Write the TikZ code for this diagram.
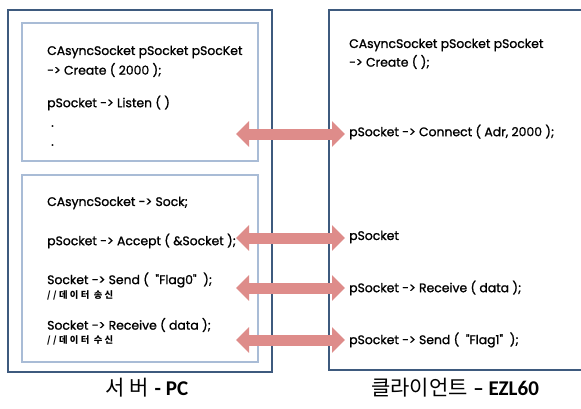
\documentclass[tikz,border=0pt]{standalone}
\usepackage{fontspec}
\setmainfont{Poppins}
\newfontfamily\codefont[FakeBold=1.2]{Poppins}
\newfontfamily\krfont{Noto Sans CJK KR}
\newfontfamily\krcmt[LetterSpace=25]{Noto Sans CJK KR}
\newfontfamily\lblfont{Carlito}
\usetikzlibrary{arrows.meta}
\definecolor{outerc}{HTML}{3E5A7E}
\definecolor{innerc}{HTML}{A9BCD6}
\definecolor{arrowc}{HTML}{DE8C8A}
\tikzset{
  outerbox/.style={draw=outerc,line width=1.6pt},
  innerbox/.style={draw=innerc,line width=1.4pt},
  code/.style={anchor=west,inner sep=0pt,font=\codefont\fontsize{12.4}{14}\selectfont},
  cmt/.style={anchor=west,inner sep=0pt,font=\krcmt\bfseries\fontsize{9.3}{10}\selectfont},
  lbl/.style={anchor=center,inner sep=0pt,font=\fontsize{21}{24}\selectfont},
  fat/.style={draw=arrowc,line width=11pt,{Triangle[width=25pt,length=13pt]}-{Triangle[width=25pt,length=13pt]}}
}
\begin{document}
\begin{tikzpicture}[x=1pt,y=-1pt]
\useasboundingbox (0,0) rectangle (581,408);
\fill[white] (0,0) rectangle (581,408);
% boxes
\draw[outerbox] (8,10) rectangle (272,372);
\draw[innerbox] (22,23) rectangle (258,161);
\draw[innerbox] (22,175) rectangle (258,362);
\draw[outerbox] (585,10) -- (329,10) -- (329,370) -- (585,370);
% left top text
\node[code] (l1) at (47,52) {CAsyncSocket pSocket pSocKet};
\node[code] (l2) at (47,70) {-> Create ( 2000 );};
\node[code] (l3) at (47,103) {pSocket -> Listen ( )};
\node[code] (d1) at (51,126) {.};
\node[code] (d2) at (51,145) {.};
% left bottom text
\node[code] (l4) at (47,203) {CAsyncSocket -> Sock;};
\node[code] (l5) at (47,241) {pSocket -> Accept ( \&Socket );};
\node[code] (l6) at (47,280) {Socket -> Send ( \ "Flag0" \ );};
\node[cmt] (c1) at (47,295) {//데이터 송신};
\node[code] (l7) at (47,325) {Socket -> Receive ( data );};
\node[cmt] (c2) at (47,340) {//데이터 수신};
% right text
\node[code] (r1) at (349,45) {CAsyncSocket pSocket pSocket};
\node[code] (r2) at (349,62) {-> Create ( );};
\node[code] (r3) at (349,132) {pSocket -> Connect ( Adr, 2000 );};
\node[code] (r4) at (349,237) {pSocket};
\node[code] (r5) at (349,288) {pSocket -> Receive ( data );};
\node[code] (r6) at (349,340) {pSocket -> Send ( \ "Flag1" \ );};
% labels
\node[lbl] (lp) at (147,388) {{\krfont 서 버} {\lblfont\bfseries - PC}};
\node[lbl] (lc) at (455,388) {{\krfont 클라이언트} {\lblfont\bfseries – EZL60}};
% arrows
\coordinate (a1l) at (236,134); \coordinate (a1r) at (345,134);
\coordinate (a2l) at (236,238); \coordinate (a2r) at (345,238);
\coordinate (a3l) at (236,288); \coordinate (a3r) at (345,288);
\coordinate (a4l) at (236,340); \coordinate (a4r) at (345,340);
\draw[fat] (a1l) -- (a1r);
\draw[fat] (a2l) -- (a2r);
\draw[fat] (a3l) -- (a3r);
\draw[fat] (a4l) -- (a4r);
\end{tikzpicture}
\end{document}
